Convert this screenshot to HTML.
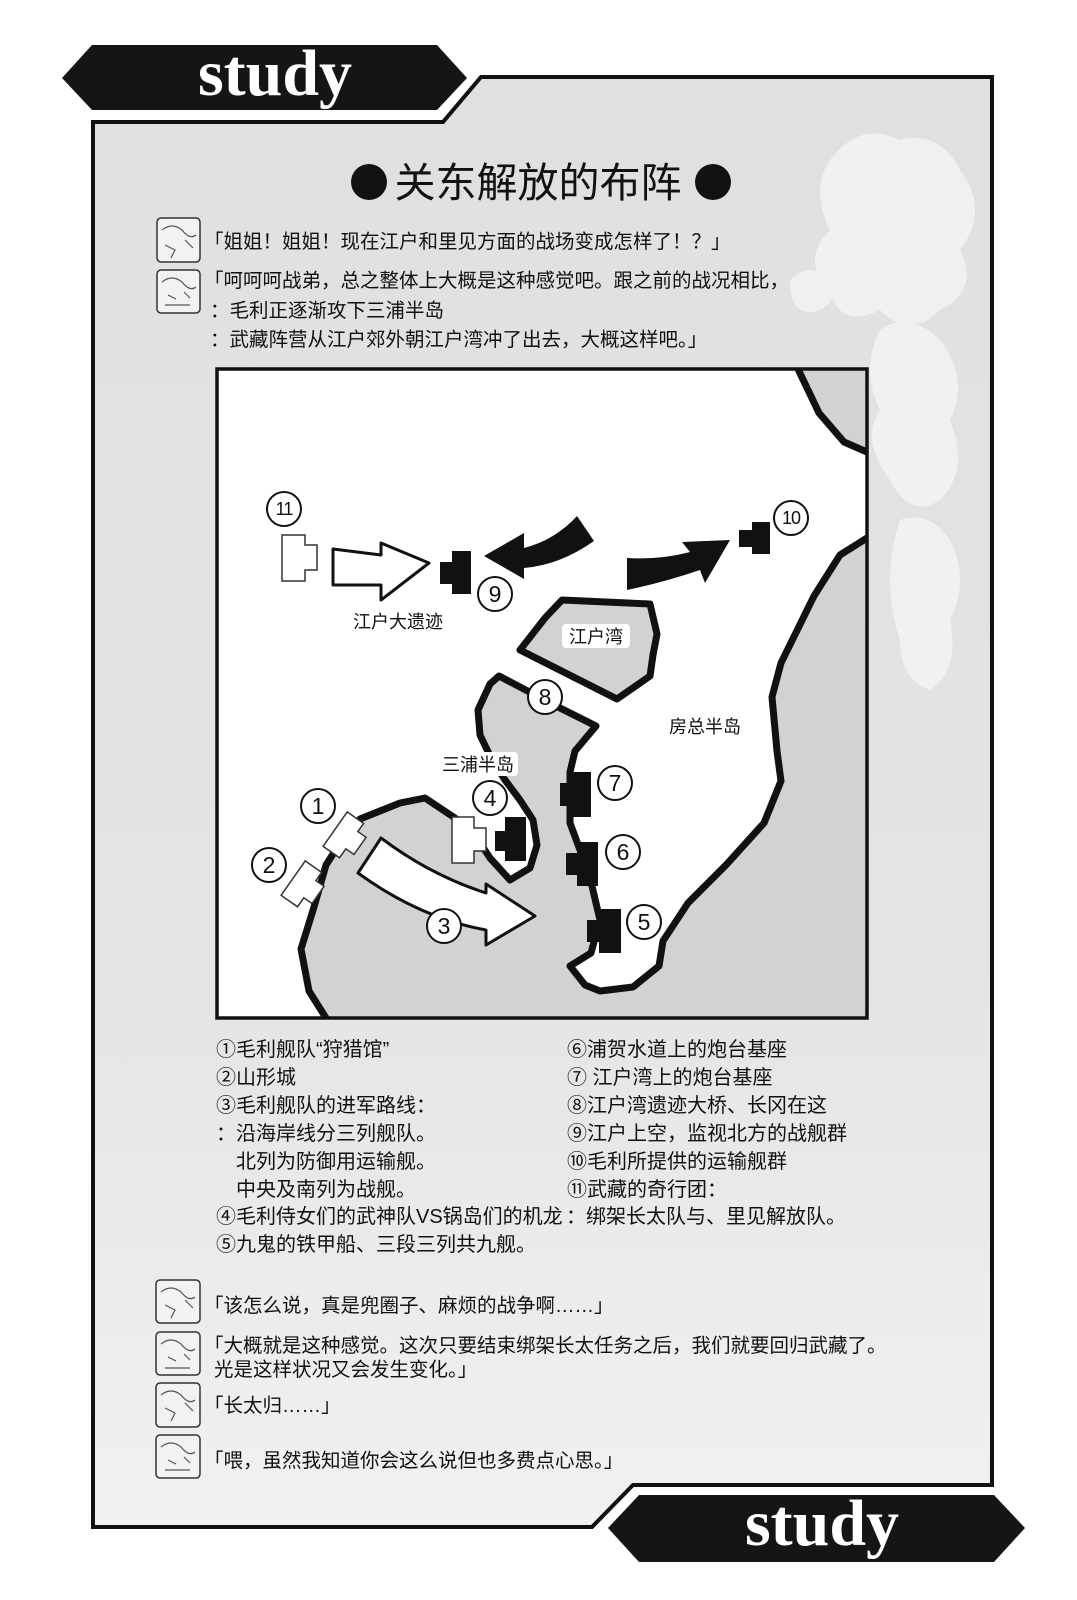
<!DOCTYPE html>
<html><head><meta charset="utf-8">
<style>
html,body{margin:0;padding:0;background:#fff;}
svg{display:block;}
text{font-family:"Liberation Sans","Noto Sans CJK SC",sans-serif;fill:#111;}
.t{font-size:19.5px;}
.lg{font-size:20px;}
.ml{font-size:18px;}
.num{font-family:"Liberation Sans",sans-serif;font-size:23px;text-anchor:middle;}
.num2{font-family:"Liberation Sans",sans-serif;font-size:18px;text-anchor:middle;letter-spacing:-1px;}
.study{font-family:"Liberation Serif",serif;font-weight:bold;font-size:66px;fill:#fff;text-anchor:middle;}
</style></head>
<body>
<svg width="1077" height="1600" viewBox="0 0 1077 1600" xmlns="http://www.w3.org/2000/svg">
<defs>
<linearGradient id="bg" x1="0" y1="0" x2="0" y2="1">
<stop offset="0" stop-color="#e0e0e0"/><stop offset="0.6" stop-color="#e4e4e4"/><stop offset="1" stop-color="#f1f1f1"/>
</linearGradient>
<clipPath id="pc"><polygon points="93,122 443,122 481,77 992,77 992,1485 633,1485 592,1527 93,1527"/></clipPath>
</defs>
<rect width="1077" height="1600" fill="#fff"/>
<polygon points="93,122 443,122 481,77 992,77 992,1485 633,1485 592,1527 93,1527" fill="url(#bg)"/>
<g clip-path="url(#pc)" fill="#f6f6f6" opacity="0.75">
<path d="M830 160 q30 -40 70 -20 q40 -10 60 30 q30 40 0 80 q20 40 -20 60 q-30 30 -60 0 q-40 20 -50 -20 q-30 -30 0 -60 q-20 -40 0 -70 z"/>
<path d="M880 330 q30 -20 60 10 q30 40 10 80 q20 50 -10 80 q-30 20 -50 -20 q-30 -40 -10 -70 q-20 -40 0 -80 z"/>
<path d="M900 520 q30 -10 50 20 q20 40 0 80 q10 50 -20 70 q-30 -10 -30 -50 q-20 -60 0 -120 z"/>
<path d="M790 280 q20 -20 40 0 q10 20 -10 30 q-30 10 -30 -30 z"/>
</g>
<polygon points="93,122 443,122 481,77 992,77 992,1485 633,1485 592,1527 93,1527" fill="none" stroke="#111" stroke-width="4"/>
<polygon points="62,78 92,45 437,45 467,78 437,110 92,110" fill="#151515"/>
<text class="study" x="275" y="95">study</text>
<polygon points="608,1528 639,1495 994,1495 1025,1528 994,1562 639,1562" fill="#151515"/>
<text class="study" x="822" y="1545">study</text>

<circle cx="369" cy="182" r="18" fill="#111"/>
<circle cx="713" cy="182" r="18" fill="#111"/>
<text x="538" y="197" style="font-size:41px;text-anchor:middle">关东解放的布阵</text>

<g stroke="#333" stroke-width="1.5" fill="#f2f2f2">
<rect x="157" y="218" width="43" height="44" rx="4"/>
<rect x="157" y="270" width="43" height="43" rx="4"/>
<rect x="156" y="1280" width="44" height="43" rx="4"/>
<rect x="156" y="1332" width="44" height="43" rx="4"/>
<rect x="156" y="1383" width="44" height="44" rx="4"/>
<rect x="156" y="1435" width="44" height="43" rx="4"/>
</g>
<g stroke="#555" stroke-width="1.2" fill="none">
<path d="M162 230 q10 -8 20 0 q8 10 14 5 M165 245 l10 5 l-4 8 M185 240 l8 8"/>
<path d="M162 282 q10 -8 20 0 q8 10 14 5 M168 295 l8 4 M184 292 l6 6 M165 305 h25"/>
<path d="M161 1292 q10 -8 20 0 q8 10 14 5 M165 1305 l10 5 l-4 8 M185 1300 l8 8"/>
<path d="M161 1344 q10 -8 20 0 q8 10 14 5 M168 1357 l8 4 M184 1354 l6 6 M165 1368 h25"/>
<path d="M161 1395 q10 -8 20 0 q8 10 14 5 M165 1408 l10 5 l-4 8 M185 1403 l8 8"/>
<path d="M161 1447 q10 -8 20 0 q8 10 14 5 M168 1460 l8 4 M184 1457 l6 6 M165 1470 h25"/>
</g>

<text class="t" x="204" y="248">「姐姐！姐姐！现在江户和里见方面的战场变成怎样了！？」</text>
<text class="t" x="204" y="287">「呵呵呵战弟，总之整体上大概是这种感觉吧。跟之前的战况相比，</text>
<text class="t" x="210" y="317">：毛利正逐渐攻下三浦半岛</text>
<text class="t" x="210" y="346">：武藏阵营从江户郊外朝江户湾冲了出去，大概这样吧。」</text>

<rect x="217" y="369" width="650" height="649" fill="#fff"/>
<polygon points="798,369 819,413 844,442 867,452 867,369" fill="#d2d2d2"/>
<polyline points="798,369 819,413 844,442 867,452" fill="none" stroke="#111" stroke-width="7" stroke-linejoin="round"/>
<polygon fill="#d2d2d2" points="326,1018 309,991 301,949 314,907 326,865 345,835 360,819 400,803 425,798 440,808 455,818 475,835 490,858 510,880 530,868 537,845 533,820 520,800 505,780 492,760 480,735 478,710 490,684 499,676 558,707 596,726 575,751 570,772 570,823 580,850 587,865 600,920 591,953 570,966 585,985 600,991 633,987 659,966 663,941 688,903 726,865 764,823 781,781 777,751 772,697 781,663 814,596 840,555 867,538 867,1018"/>
<polyline fill="none" stroke="#111" stroke-width="7" stroke-linejoin="round" points="326,1018 309,991 301,949 314,907 326,865 345,835 360,819 400,803 425,798 440,808 455,818 475,835 490,858 510,880 530,868 537,845 533,820 520,800 505,780 492,760 480,735 478,710 490,684 499,676 558,707 596,726 575,751 570,772 570,823 580,850 587,865 600,920 591,953 570,966 585,985 600,991 633,987 659,966 663,941 688,903 726,865 764,823 781,781 777,751 772,697 781,663 814,596 840,555 867,538"/>
<polygon points="520,650 545,618 562,600 650,604 657,634 653,655 650,676 617,699" fill="#d2d2d2" stroke="#111" stroke-width="7" stroke-linejoin="round"/>
<rect x="217" y="369" width="650" height="649" fill="none" stroke="#111" stroke-width="3.5"/>

<path d="M333 549 L381 555 L381 543 L429 563 L381 600 L381 585 L333 585 Z" fill="#fff" stroke="#111" stroke-width="3" stroke-linejoin="round"/>
<path d="M484 556 L524 533 L524 548 Q555 540 577 516 L594 541 Q560 565 524 568 L524 579 Z" fill="#111"/>
<path d="M627 558 Q660 560 690 552 L682 542 L730 540 L705 583 L700 570 Q665 582 627 590 Z" fill="#111"/>
<path d="M381 838 Q430 875 486 893 L486 884 L535 916 L486 945 L486 930 Q420 918 358 873 Z" fill="#fff" stroke="#111" stroke-width="3" stroke-linejoin="round"/>

<g fill="#fff" stroke="#333" stroke-width="1.5">
<path d="M282 535 H305 V545 H317 V570 H305 V581 H282 Z"/>
<path d="M452 817 H474 V828 H486 V851 H474 V863 H452 Z"/>
<g transform="rotate(35 345 836)"><path d="M333 815 H353 V825 H363 V846 H353 V857 H333 Z"/></g>
<g transform="rotate(35 303 885)"><path d="M291 864 H311 V874 H321 V895 H311 V906 H291 Z"/></g>
</g>
<g fill="#111">
<path d="M452 551 H471 V594 H452 V584 H440 V562 H452 Z"/>
<path d="M752 522 H770 V554 H752 V547 H739 V530 H752 Z"/>
<path d="M505 817 H526 V861 H505 V851 H495 V831 H505 Z"/>
<path d="M571 772 H591 V817 H571 V806 H560 V783 H571 Z"/>
<path d="M577 842 H598 V886 H577 V875 H566 V853 H577 Z"/>
<path d="M599 909 H621 V953 H599 V942 H587 V920 H599 Z"/>
</g>

<g fill="#fff" stroke="#111" stroke-width="2">
<circle cx="284" cy="509" r="17"/><circle cx="791" cy="518" r="17"/>
<circle cx="495" cy="594" r="17"/><circle cx="545" cy="697" r="17"/>
<circle cx="490" cy="798" r="17"/><circle cx="615" cy="783" r="17"/>
<circle cx="623" cy="852" r="17"/><circle cx="644" cy="922" r="17"/>
<circle cx="318" cy="806" r="17"/><circle cx="269" cy="865" r="17"/>
<circle cx="444" cy="926" r="17"/>
</g>
<text class="num2" x="284" y="515">11</text>
<text class="num2" x="791" y="524">10</text>
<text class="num" x="495" y="602">9</text>
<text class="num" x="545" y="705">8</text>
<text class="num" x="490" y="806">4</text>
<text class="num" x="615" y="791">7</text>
<text class="num" x="623" y="860">6</text>
<text class="num" x="644" y="930">5</text>
<text class="num" x="318" y="814">1</text>
<text class="num" x="269" y="873">2</text>
<text class="num" x="444" y="934">3</text>
<text class="ml" x="398" y="628" text-anchor="middle">江户大遗迹</text>
<rect x="562" y="624" width="68" height="24" fill="#fff" rx="4"/>
<text class="ml" x="596" y="643" text-anchor="middle">江户湾</text>
<text class="ml" x="705" y="733" text-anchor="middle">房总半岛</text>
<rect x="438" y="752" width="80" height="24" fill="#fff" rx="4"/>
<text class="ml" x="478" y="771" text-anchor="middle">三浦半岛</text>

<text class="lg" x="216" y="1056">①毛利舰队“狩猎馆”</text>
<text class="lg" x="216" y="1084">②山形城</text>
<text class="lg" x="216" y="1112">③毛利舰队的进军路线：</text>
<text class="lg" x="216" y="1140">：沿海岸线分三列舰队。</text>
<text class="lg" x="236" y="1168">北列为防御用运输舰。</text>
<text class="lg" x="236" y="1196">中央及南列为战舰。</text>
<text class="lg" x="216" y="1223">④毛利侍女们的武神队VS锅岛们的机龙</text>
<text class="lg" x="216" y="1251">⑤九鬼的铁甲船、三段三列共九舰。</text>
<text class="lg" x="567" y="1056">⑥浦贺水道上的炮台基座</text>
<text class="lg" x="567" y="1084">⑦ 江户湾上的炮台基座</text>
<text class="lg" x="567" y="1112">⑧江户湾遗迹大桥、长冈在这</text>
<text class="lg" x="567" y="1140">⑨江户上空，监视北方的战舰群</text>
<text class="lg" x="567" y="1168">⑩毛利所提供的运输舰群</text>
<text class="lg" x="567" y="1196">⑪武藏的奇行团：</text>
<text class="lg" x="566" y="1223">：绑架长太队与、里见解放队。</text>

<text class="t" x="204" y="1312">「该怎么说，真是兜圈子、麻烦的战争啊……」</text>
<text class="t" x="204" y="1352">「大概就是这种感觉。这次只要结束绑架长太任务之后，我们就要回归武藏了。</text>
<text class="t" x="214" y="1376">光是这样状况又会发生变化。」</text>
<text class="t" x="204" y="1412">「长太归……」</text>
<text class="t" x="204" y="1467">「喂，虽然我知道你会这么说但也多费点心思。」</text>
</svg>
</body></html>
